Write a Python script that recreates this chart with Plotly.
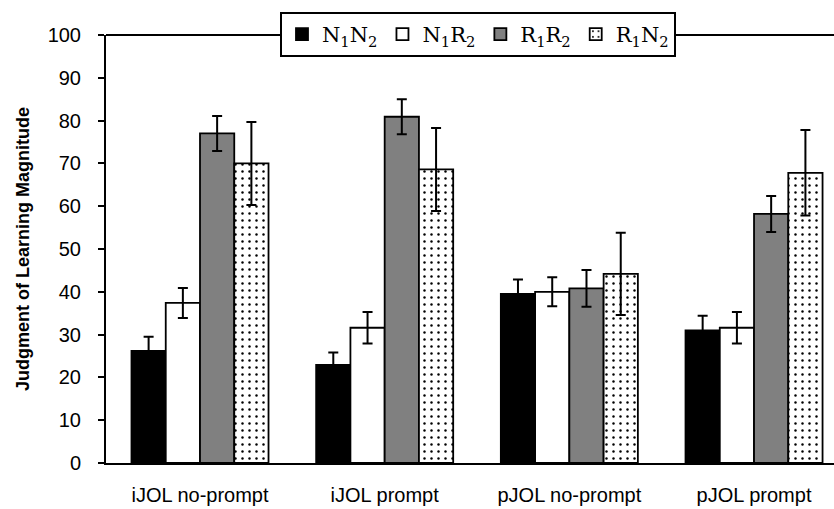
import plotly.graph_objects as go

categories = ["iJOL no-prompt", "iJOL prompt", "pJOL no-prompt", "pJOL prompt"]
series_names = ["N<sub>1</sub>N<sub>2</sub>", "N<sub>1</sub>R<sub>2</sub>",
                "R<sub>1</sub>R<sub>2</sub>", "R<sub>1</sub>N<sub>2</sub>"]
n1n2 = [26.2, 22.9, 39.5, 31.0]
n1n2_err = [3.3, 2.9, 3.4, 3.4]
n1r2 = [37.4, 31.6, 40.0, 31.6]
n1r2_err = [3.5, 3.7, 3.4, 3.7]
r1r2 = [77.0, 80.9, 40.8, 58.2]
r1r2_err = [4.1, 4.1, 4.3, 4.2]
r1n2 = [70.0, 68.6, 44.2, 67.8]
r1n2_err = [9.7, 9.7, 9.6, 10.0]
y_ticks = [0, 10, 20, 30, 40, 50, 60, 70, 80, 90, 100]

values = [n1n2, n1r2, r1r2, r1n2]
errors = [n1n2_err, n1r2_err, r1r2_err, r1n2_err]
fills = ["black", "white", "rgb(128,128,128)", "white"]

xpos = list(range(len(categories)))
sans = "Liberation Sans, Arial, sans-serif"

fig = go.Figure()
for i in range(4):
    marker = dict(color=fills[i], line=dict(color="black", width=1.8))
    if i == 3:
        marker["pattern"] = dict(shape=".", fgcolor="black", bgcolor="white",
                                 size=7, solidity=0.1, fillmode="replace")
    fig.add_trace(go.Bar(
        x=xpos, y=values[i], name=series_names[i], marker=marker,
        error_y=dict(type="data", array=errors[i], visible=True,
                     color="black", thickness=2, width=5),
    ))

fig.update_layout(
    width=834, height=509,
    margin=dict(l=106, r=0, t=35, b=46),
    paper_bgcolor="white", plot_bgcolor="white",
    barmode="group", bargap=0.258, bargroupgap=0,
    showlegend=True,
    legend=dict(orientation="h", x=0.239, y=1.054, xanchor="left", yanchor="top",
                bgcolor="white", bordercolor="black", borderwidth=2,
                font=dict(family="DejaVu Serif", size=21, color="black"),
                itemwidth=30, tracegroupgap=0),
    xaxis=dict(tickmode="array", tickvals=xpos, ticktext=categories,
               range=[-0.509, 3.433], showline=True, linecolor="black", linewidth=2,
               ticks="", showgrid=False, zeroline=False, automargin=False,
               ticklabelstandoff=13,
               tickfont=dict(family=sans, size=20, color="black")),
    yaxis=dict(range=[0, 100], tickvals=y_ticks, showline=True, linecolor="black", linewidth=2,
               ticks="outside", ticklen=6, tickwidth=2, tickcolor="black",
               showgrid=False, zeroline=False, ticklabelstandoff=13, automargin=False,
               tickfont=dict(family=sans, size=20, color="black")),
    shapes=[dict(type="line", xref="paper", yref="paper", x0=0, x1=1, y0=1, y1=1,
                 line=dict(color="black", width=2), layer="below")],
    annotations=[dict(text="<b>Judgment of Learning Magnitude</b>", textangle=-90,
                      xref="paper", yref="paper", x=(23 - 106) / 728, y=0.5,
                      xanchor="center", yanchor="middle", showarrow=False,
                      font=dict(family=sans, size=18, color="black"))],
)

fig.write_html("out.html")
